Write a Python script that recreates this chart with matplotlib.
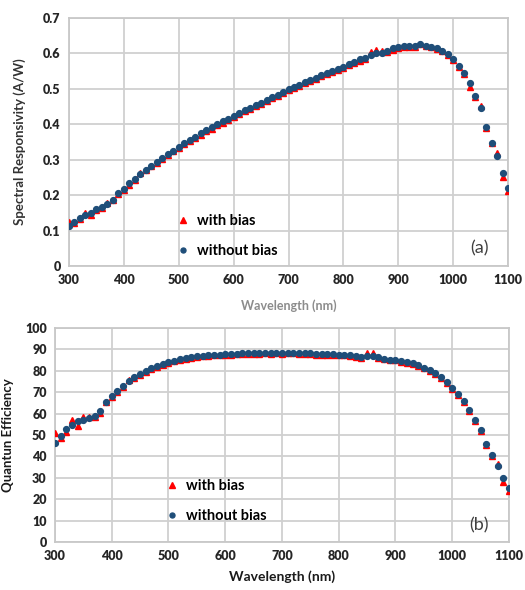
import matplotlib
matplotlib.use("Agg")
import matplotlib.pyplot as plt
import numpy as np

plt.rcParams["font.family"] = ["Lato", "DejaVu Sans"]

wavelength = list(range(300, 1101, 10))

# spectral responsivity (A/W)
sr_without = [
    0.113, 0.125, 0.135, 0.145, 0.149, 0.160, 0.166, 0.175, 0.187, 0.206,
    0.217, 0.233, 0.245, 0.260, 0.272, 0.283, 0.294, 0.305, 0.317, 0.326,
    0.336, 0.347, 0.357, 0.365, 0.374, 0.383, 0.391, 0.400, 0.408, 0.416,
    0.424, 0.432, 0.440, 0.447, 0.454, 0.461, 0.468, 0.476, 0.484, 0.491,
    0.499, 0.505, 0.511, 0.520, 0.525, 0.532, 0.539, 0.544, 0.551, 0.556,
    0.563, 0.570, 0.576, 0.583, 0.586, 0.595, 0.600, 0.602, 0.607, 0.614,
    0.619, 0.621, 0.622, 0.622, 0.626, 0.621, 0.619, 0.614, 0.607, 0.597,
    0.583, 0.564, 0.544, 0.516, 0.481, 0.446, 0.392, 0.348, 0.310, 0.262,
    0.220,
]
sr_with = [
    0.123, 0.122, 0.133, 0.151, 0.143, 0.158, 0.164, 0.177, 0.185, 0.204,
    0.215, 0.230, 0.243, 0.262, 0.270, 0.281, 0.292, 0.303, 0.314, 0.324,
    0.333, 0.344, 0.354, 0.362, 0.371, 0.380, 0.388, 0.397, 0.405, 0.413,
    0.421, 0.429, 0.437, 0.444, 0.451, 0.458, 0.465, 0.473, 0.481, 0.488,
    0.496, 0.502, 0.508, 0.517, 0.521, 0.529, 0.536, 0.541, 0.548, 0.553,
    0.560, 0.567, 0.573, 0.580, 0.583, 0.605, 0.609, 0.607, 0.604, 0.611,
    0.616, 0.617, 0.617, 0.617, 0.628, 0.620, 0.618, 0.613, 0.606, 0.596,
    0.582, 0.562, 0.542, 0.505, 0.478, 0.452, 0.390, 0.346, 0.318, 0.250,
    0.212,
]

# quantum efficiency (%)
qe_without = [
    46.1, 49.5, 52.7, 54.7, 56.4, 57.2, 57.8, 58.7, 61.4, 65.3,
    68.0, 70.6, 73.1, 75.3, 77.0, 78.6, 79.7, 81.1, 82.3, 83.3,
    84.1, 84.8, 85.5, 85.8, 86.4, 86.7, 87.0, 87.3, 87.5, 87.5,
    87.8, 87.9, 88.0, 88.1, 88.2, 88.2, 88.3, 88.3, 88.3, 88.3,
    88.3, 88.4, 88.4, 88.3, 88.2, 88.1, 87.9, 87.9, 87.8, 87.8,
    87.6, 87.5, 87.3, 87.1, 86.5, 86.8, 86.8, 86.5, 85.6, 85.2,
    85.2, 84.6, 84.1, 83.7, 82.7, 81.4, 80.2, 78.9, 77.0, 74.9,
    72.1, 69.1, 65.9, 61.8, 57.2, 52.2, 45.6, 40.5, 35.6, 29.7,
    25.2,
]
qe_with = [
    50.8, 48.6, 51.6, 56.9, 54.1, 58.4, 58.4, 58.5, 60.3, 65.6,
    67.6, 70.2, 72.5, 75.5, 76.6, 78.2, 79.3, 80.7, 81.9, 82.9,
    83.7, 84.5, 85.2, 85.5, 86.1, 86.4, 86.7, 87.0, 87.2, 87.3,
    87.5, 87.6, 87.7, 87.8, 87.9, 88.0, 88.0, 88.1, 88.0, 88.1,
    88.0, 88.1, 88.1, 88.0, 87.8, 87.8, 87.6, 87.6, 87.4, 87.5,
    87.2, 87.2, 87.0, 86.6, 86.0, 88.1, 88.4, 86.2, 85.3, 84.9,
    84.9, 84.3, 83.8, 83.4, 82.4, 81.1, 79.8, 78.5, 76.6, 74.5,
    71.7, 68.7, 65.3, 61.3, 56.6, 51.7, 45.3, 40.0, 36.6, 28.1,
    23.9,
]

W, H = 525, 590
fig = plt.figure(figsize=(W / 100, H / 100), dpi=100)
fig.patch.set_facecolor("white")

RED = "#ff0000"
BLUE = "#1f4e79"
GRID = "#d0d0d0"
TICK = "#262626"


def px_axes(left, top, right, bottom):
    return fig.add_axes([left / W, 1 - bottom / H, (right - left) / W, (bottom - top) / H])


def style(ax):
    ax.grid(True, color=GRID, lw=1.3, zorder=0)
    ax.set_axisbelow(True)
    for s in ax.spines.values():
        s.set_color("#c8c8c8")
        s.set_linewidth(1.3)
    ax.tick_params(length=0, labelsize=9, colors=TICK, pad=6)
    for lbl in ax.get_xticklabels() + ax.get_yticklabels():
        lbl.set_fontweight("heavy")


# ---- (a) spectral responsivity
ax1 = px_axes(69, 18, 508, 266)
ax1.plot(wavelength, sr_with, ls="none", marker="^", ms=5.0, color=RED, label="with bias", zorder=3)
ax1.plot(wavelength, sr_without, ls="none", marker="o", ms=4.2, color=BLUE, label="without bias", zorder=4)
ax1.set_xlim(300, 1100)
ax1.set_ylim(0, 0.7)
ax1.set_xticks(np.arange(300, 1101, 100))
ax1.set_yticks(np.arange(0, 0.71, 0.1))
ax1.set_yticklabels(["0"] + [f"{v:.1f}" for v in np.arange(0.1, 0.71, 0.1)])
style(ax1)
ax1.set_xlabel("Wavelength (nm)", fontsize=9, fontweight="bold", color="#8c8c8c", labelpad=9)
ax1.set_ylabel("Spectral Responsivity (A/W)", fontsize=9.5, fontweight="bold", color="#333333", labelpad=12)
ax1.legend(loc="upper left", bbox_to_anchor=(0.2255, 0.238), frameon=False, borderpad=0,
           handlelength=1.0, handletextpad=0.5, labelspacing=1.1, markerscale=0.85,
           prop={"weight": "bold", "size": 10.5})
ax1.text(0.935, 0.07, "(a)", transform=ax1.transAxes, fontsize=13, color="#404040",
         ha="center", va="center")

# ---- (b) quantum efficiency
ax2 = px_axes(55, 328, 509, 542)
ax2.plot(wavelength, qe_with, ls="none", marker="^", ms=5.0, color=RED, label="with bias", zorder=3)
ax2.plot(wavelength, qe_without, ls="none", marker="o", ms=4.2, color=BLUE, label="without bias", zorder=4)
ax2.set_xlim(300, 1100)
ax2.set_ylim(0, 100)
ax2.set_xticks(np.arange(300, 1101, 100))
ax2.set_yticks(np.arange(0, 101, 10))
style(ax2)
ax2.set_xlabel("Wavelength (nm)", fontsize=10, fontweight="bold", color="#1a1a1a", labelpad=6)
ax2.set_ylabel("Quantun Efficiency", fontsize=9.5, fontweight="bold", color="#1a1a1a", labelpad=8)
ax2.legend(loc="upper left", bbox_to_anchor=(0.2247, 0.327), frameon=False, borderpad=0,
           handlelength=1.0, handletextpad=0.5, labelspacing=1.1, markerscale=0.85,
           prop={"weight": "bold", "size": 10.5})
ax2.text(0.935, 0.08, "(b)", transform=ax2.transAxes, fontsize=13, color="#404040",
         ha="center", va="center")

fig.savefig("out.png", dpi=100, facecolor="white")
